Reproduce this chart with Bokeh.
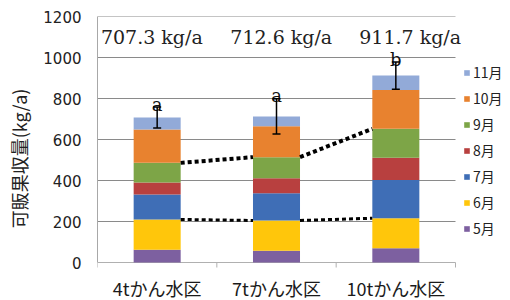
import numpy as np
from bokeh.plotting import figure
from bokeh.models import (Range1d, FixedTicker, Legend, LegendItem,
                          Whisker, ColumnDataSource, TeeHead)
from bokeh.embed import file_html
from bokeh.resources import INLINE
from bokeh.core.properties import value

# ---------------- data ----------------
groups = ["4tかん水区", "7tかん水区", "10tかん水区"]
months = ["5月", "6月", "7月", "8月", "9月", "10月", "11月"]
may = [62, 57, 70]
jun = [148, 148, 146]
jul = [122, 133, 187]
aug = [58, 73, 108]
sep = [96, 103, 141]
oct_ = [163, 151, 190]
nov = [58.3, 47.6, 69.7]
totals = [707.3, 712.6, 911.7]
errors = [51, 86, 66]
sig_letters = ["a", "a", "b"]
total_labels = ["707.3 kg/a", "712.6 kg/a", "911.7 kg/a"]
y_ticks = [0, 200, 400, 600, 800, 1000, 1200]

colors = ["#7D60A0", "#FFC60B", "#3F6EB6", "#B8403F", "#7DA547", "#E8822F", "#92AAD8"]

series = [may, jun, jul, aug, sep, oct_, nov]
xs = np.arange(len(groups))
bar_w = 0.394

# layout: 246 px from 0 to 1200, extra 38 px below zero for the category labels
px_per_unit = 246 / 1200.0
y_min = -38 / px_per_unit
tick_len = 5 / px_per_unit
x_px_per_unit = 358 / 3.0
x_max = -0.5 + 413 / x_px_per_unit

p = figure(width=510, height=300, output_backend="svg", toolbar_location=None,
           x_range=Range1d(-0.5, x_max), y_range=Range1d(y_min, 1200),
           x_axis_location=None,
           min_border_left=97, min_border_right=0, min_border_top=16,
           min_border_bottom=0)
p.outline_line_color = None
p.xgrid.visible = False
p.ygrid.visible = False

# gridlines (only across the category area)
n = len(y_ticks) - 1
p.segment(x0=[-0.5] * n, x1=[2.5] * n, y0=y_ticks[1:], y1=y_ticks[1:],
          line_color="#8a8a8a", line_width=1)

# category axis line and separator ticks
bounds = [-0.5, 0.5, 1.5, 2.5]
p.segment(x0=[-0.5], x1=[2.5], y0=[0], y1=[0], line_color="#b0b0b0", line_width=1)
p.segment(x0=bounds, x1=bounds, y0=[0] * 4, y1=[-tick_len] * 4,
          line_color="#b0b0b0", line_width=1)

# stacked bars
cum = np.zeros(len(groups))
tops = []
renderers = []
for vals, c in zip(series, colors):
    top = cum + np.array(vals)
    r = p.vbar(x=xs, bottom=cum, top=top, width=bar_w, fill_color=c, line_color=None)
    renderers.append(r)
    tops.append(top.copy())
    cum = top

# dotted connector lines (6月 and 9月 tops)
for idx, lw in ((1, 3), (4, 4)):
    t = tops[idx]
    for i in range(len(groups) - 1):
        p.line(x=[xs[i] + bar_w / 2, xs[i + 1] - bar_w / 2], y=[t[i], t[i + 1]],
               line_color="black", line_width=lw, line_dash="4 3")

# error bars
tot = np.array(totals)
err = np.array(errors)
src = ColumnDataSource(dict(x=xs, upper=tot + err, lower=tot - err))
wh = Whisker(source=src, base="x", upper="upper", lower="lower",
             line_color="black", line_width=1.5, level="overlay",
             upper_head=TeeHead(size=8, line_width=1.5, line_color="black"),
             lower_head=TeeHead(size=8, line_width=1.5, line_color="black"))
p.add_layout(wh)

# significance letters
p.text(x=xs, y=tot + err, text=sig_letters, text_align="center",
       text_baseline="alphabetic", y_offset=-3,
       text_font=value("DejaVu Serif"), text_font_size="18px", text_color="#111111")

# totals in the top box
label_dx = [-0.045, 0.04, 0.12]
p.text(x=xs + np.array(label_dx), y=[1100] * 3, text=total_labels,
       text_align="center", text_baseline="middle",
       text_font=value("DejaVu Serif"), text_font_size="19px", text_color="#222222")

# category labels
p.text(x=xs, y=[0] * 3, text=groups, y_offset=25, text_align="center",
       text_baseline="middle", text_font=value("Noto Sans CJK JP"),
       text_font_size="18px", text_color="#1a1a1a")

# legend with small square swatches
leg_items = [LegendItem(label=m, renderers=[r]) for m, r in zip(months, renderers)]
legend = Legend(items=leg_items[::-1], location=(366, 62), glyph_width=7,
                glyph_height=7, label_height=7, spacing=6, label_standoff=3,
                padding=0, margin=0, border_line_color=None,
                background_fill_alpha=0, label_text_font="Noto Sans CJK JP",
                label_text_font_size="14px", label_text_color="#222222")
p.add_layout(legend)

# y axis
p.yaxis.ticker = FixedTicker(ticks=y_ticks)
p.yaxis.bounds = (0, 1200)
p.yaxis.axis_line_color = "#a8a8a8"
p.yaxis.major_tick_line_color = None
p.yaxis.minor_tick_line_color = None
p.yaxis.major_tick_out = 0
p.yaxis.major_tick_in = 0
p.yaxis.major_label_standoff = 16
p.yaxis.major_label_text_font = "DejaVu Sans"
p.yaxis.major_label_text_font_size = "15px"
p.yaxis.major_label_text_color = "#222222"
p.yaxis.axis_label = "可販果収量(kg/a)"
p.yaxis.axis_label_text_font = "Noto Sans CJK JP"
p.yaxis.axis_label_text_font_style = "normal"
p.yaxis.axis_label_text_font_size = "18px"
p.yaxis.axis_label_text_color = "#222222"
p.yaxis.axis_label_standoff = 8

open("out.html", "w").write(file_html(p, INLINE))
